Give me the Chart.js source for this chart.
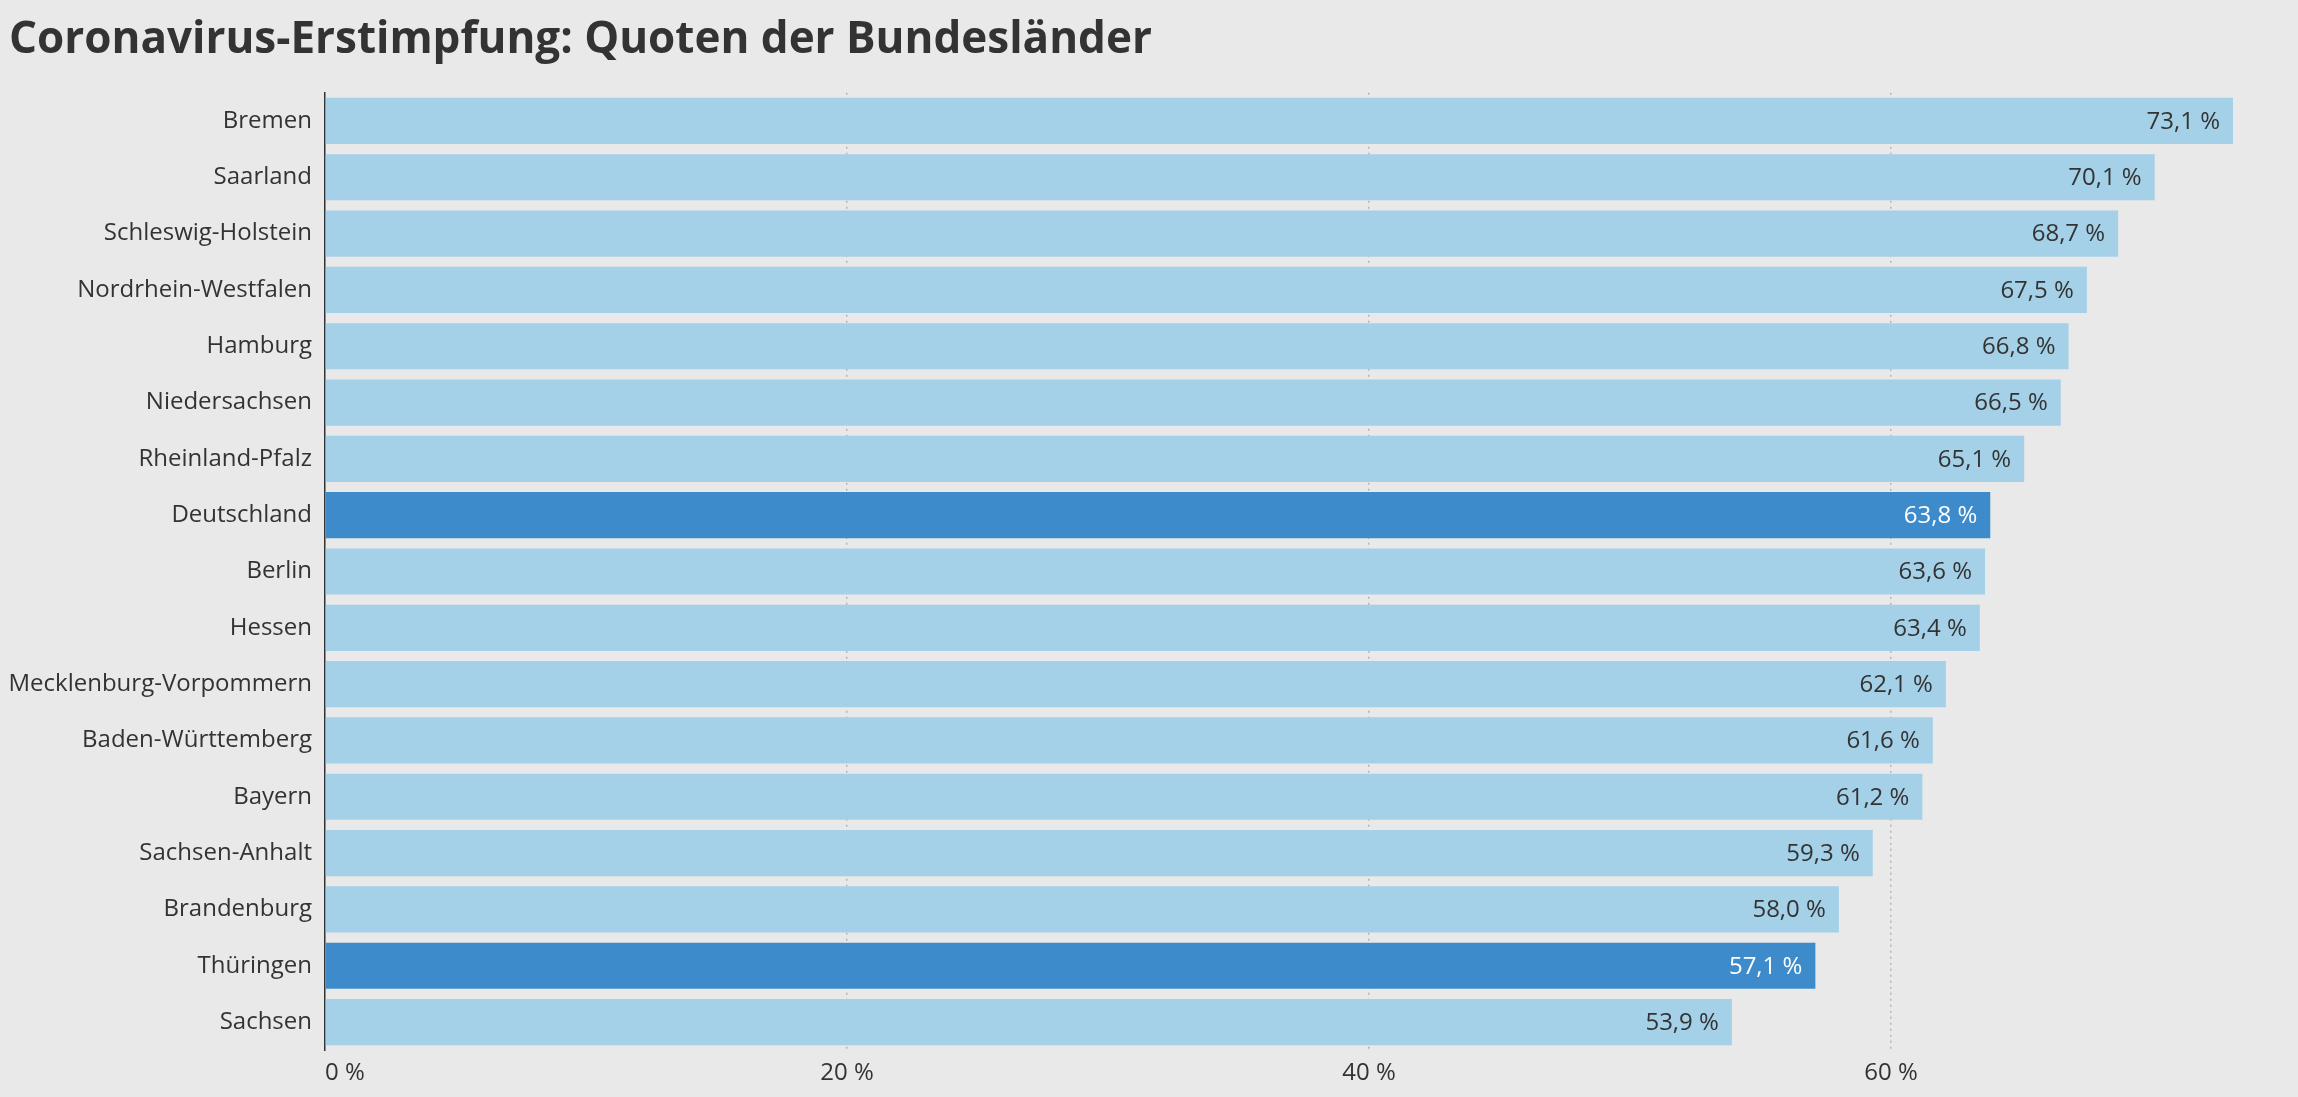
<!DOCTYPE html>
<html lang="de">
<head>
<meta charset="utf-8">
<title>Coronavirus-Erstimpfung</title>
<script src="https://cdn.jsdelivr.net/npm/chart.js@4/dist/chart.umd.min.js"></script>
<style>
    html, body { margin: 0; padding: 0; background: #e9e9e9; }
    #wrap { width: 2298px; height: 1097px; position: relative; }
</style>
</head>
<body>
<div id="wrap"><canvas id="impfquoten"></canvas></div>
<script>
const laender = [
    'Bremen', 'Saarland', 'Schleswig-Holstein', 'Nordrhein-Westfalen', 'Hamburg',
    'Niedersachsen', 'Rheinland-Pfalz', 'Deutschland', 'Berlin', 'Hessen',
    'Mecklenburg-Vorpommern', 'Baden-Württemberg', 'Bayern', 'Sachsen-Anhalt',
    'Brandenburg', 'Thüringen', 'Sachsen'
];
const quoten = [73.1, 70.1, 68.7, 67.5, 66.8, 66.5, 65.1, 63.8, 63.6, 63.4, 62.1, 61.6, 61.2, 59.3, 58.0, 57.1, 53.9];
const hervorgehoben = ['Deutschland', 'Thüringen'];
const tickWerte = [0, 20, 40, 60];

const hell = '#a4d0e8';
const dunkel = '#3d8bca';

const formatQuote = v => v.toFixed(1).replace('.', ',') + ' %';

// Werte am Balkenende
const wertLabels = {
    id: 'wertLabels',
    afterDatasetsDraw(chart) {
        const ctx = chart.ctx;
        const meta = chart.getDatasetMeta(0);
        ctx.save();
        ctx.font = '24px "Open Sans"';
        ctx.textAlign = 'right';
        ctx.textBaseline = 'middle';
        meta.data.forEach((bar, i) => {
            ctx.fillStyle = hervorgehoben.includes(laender[i]) ? '#ffffff' : '#333333';
            ctx.fillText(formatQuote(quoten[i]), bar.x - 13, bar.y + 1);
        });
        ctx.restore();
    }
};

new Chart(document.getElementById('impfquoten'), {
    type: 'bar',
    data: {
        labels: laender,
        datasets: [{
            data: quoten,
            backgroundColor: laender.map(l => hervorgehoben.includes(l) ? dunkel : hell),
            borderWidth: 0,
            barPercentage: 0.82,
            categoryPercentage: 1
        }]
    },
    options: {
        indexAxis: 'y',
        responsive: true,
        maintainAspectRatio: false,
        devicePixelRatio: 1,
        animation: false,
        layout: { padding: { left: 9, right: 65, top: 0, bottom: 0 } },
        plugins: {
            legend: { display: false },
            tooltip: { enabled: false },
            title: {
                display: true,
                text: 'Coronavirus-Erstimpfung: Quoten der Bundesländer',
                align: 'start',
                color: '#333333',
                font: { family: '"Open Sans"', size: 44, weight: 'bold' },
                padding: { top: 14, bottom: 26 }
            }
        },
        scales: {
            x: {
                min: 0,
                max: Math.max(...quoten),
                border: { display: false, dash: [2, 4] },
                grid: {
                    drawTicks: false,
                    color: ctx => tickWerte.includes(ctx.tick.value) && ctx.tick.value !== 0 ? '#b5b5b5' : 'transparent',
                    lineWidth: 1.5
                },
                ticks: {
                    stepSize: 20,
                    align: 'inner',
                    padding: 9,
                    color: '#333333',
                    font: { family: '"Open Sans"', size: 24 },
                    callback: v => tickWerte.includes(v) ? v + ' %' : ''
                }
            },
            y: {
                afterFit: scale => { scale.width = 316; },
                grid: { display: false, drawTicks: false },
                border: { display: true, color: '#333333', width: 1.5 },
                ticks: {
                    padding: 13,
                    color: '#333333',
                    font: { family: '"Open Sans"', size: 24 }
                }
            }
        }
    },
    plugins: [wertLabels]
});
</script>
</body>
</html>
